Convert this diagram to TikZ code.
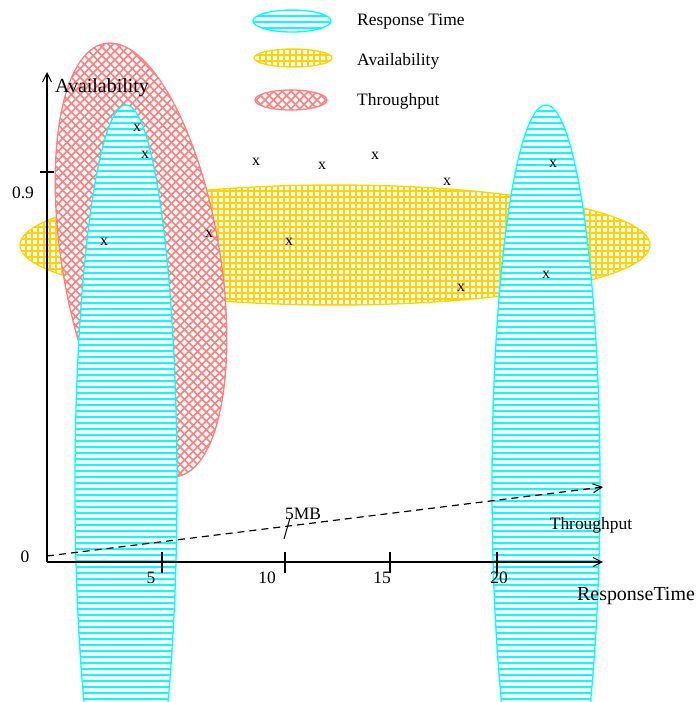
\documentclass[tikz,border=0pt]{standalone}
\usepackage{fontspec}
\setmainfont{Liberation Serif}
\usetikzlibrary{arrows.meta}
\definecolor{cyanc}{HTML}{00FFFF}
\definecolor{goldc}{HTML}{FFD200}
\definecolor{salmonc}{HTML}{FF7F7F}
\tikzset{
  rtline/.style={draw=cyanc,line width=1.8bp},
  avline/.style={draw=goldc,line width=1.8bp},
  tpline/.style={draw=salmonc,line width=1.6bp},
  lbl/.style={inner sep=0pt,font=\fontsize{17.5}{20}\selectfont},
  biglbl/.style={inner sep=0pt,font=\fontsize{20}{23}\selectfont},
  mark x/.style={inner sep=0pt,font=\fontsize{16}{18}\selectfont},
  axis/.style={line width=1.4bp,-{Straight Barb[length=9bp,width=9bp,line width=1bp]}},
  tickline/.style={line width=1.3bp},
}
% cx cy rx ry : horizontal lines (Response Time)
\newcommand\RTell[4]{%
  \begin{scope}
    \clip (#1,#2) ellipse [x radius=#3bp, y radius=#4bp];
    \fill[white] (#1,#2) ellipse [x radius=#3bp, y radius=#4bp];
    \foreach \ii in {0,...,140}{
      \draw[rtline] ({#1-#3-2},{#2-#4+6*\ii}) -- ({#1+#3+2},{#2-#4+6*\ii});
    }
  \end{scope}
  \draw[rtline,line width=1.3bp] (#1,#2) ellipse [x radius=#3bp, y radius=#4bp];
}
% cx cy rx ry : square grid (Availability)
\newcommand\AVell[4]{%
  \begin{scope}
    \clip (#1,#2) ellipse [x radius=#3bp, y radius=#4bp];
    \fill[white] (#1,#2) ellipse [x radius=#3bp, y radius=#4bp];
    \foreach \ii in {0,...,110}{
      \draw[avline] ({#1-#3+6*\ii},{#2-#4-2}) -- ({#1-#3+6*\ii},{#2+#4+2});
    }
    \foreach \ii in {0,...,25}{
      \draw[avline] ({#1-#3-2},{#2-#4+6*\ii}) -- ({#1+#3+2},{#2-#4+6*\ii});
    }
  \end{scope}
  \draw[avline,line width=1.3bp] (#1,#2) ellipse [x radius=#3bp, y radius=#4bp];
}
% cx cy rx ry angle : diagonal cross hatch (Throughput)
\newcommand\TPell[5]{%
  \begin{scope}
    \clip[rotate around={#5:(#1,#2)}] (#1,#2) ellipse [x radius=#3bp, y radius=#4bp];
    \fill[white,rotate around={#5:(#1,#2)}] (#1,#2) ellipse [x radius=#3bp, y radius=#4bp];
    \foreach \ii in {-60,...,60}{
      \draw[tpline] ({#1-260},{#2-260+8.7*\ii}) -- ({#1+260},{#2+260+8.7*\ii});
      \draw[tpline] ({#1-260},{#2+260+8.7*\ii}) -- ({#1+260},{#2-260+8.7*\ii});
    }
  \end{scope}
  \draw[tpline,line width=1.3bp,rotate around={#5:(#1,#2)}] (#1,#2) ellipse [x radius=#3bp, y radius=#4bp];
}
\begin{document}
\begin{tikzpicture}[x=1bp,y=-1bp]
\useasboundingbox (0,0) rectangle (700,702);
\clip (0,0) rectangle (700,702);
% main ellipses
\AVell{335}{245}{315}{60}
\TPell{141}{260}{79}{219.5}{9.4}
\RTell{126}{486}{51}{381}
\RTell{546}{486}{54}{381}
% legend
\RTell{292}{21}{39}{11}
\AVell{293}{58}{39}{9}
\TPell{291}{100}{36}{10}{0}
\node[lbl,anchor=west] (lgrt) at (357,22) {Response Time};
\node[lbl,anchor=west] (lgav) at (357,61) {Availability};
\node[lbl,anchor=west] (lgtp) at (357,101) {Throughput};
% axes
\coordinate (O) at (47,562);
\coordinate (ytop) at (47,72);
\coordinate (xend) at (603,562);
\draw[axis] (O) -- (ytop);
\draw[axis] (O) -- (xend);
\coordinate (yt1) at (40,172);
\coordinate (yt2) at (54,172);
\draw[tickline] (yt1) -- (yt2);
\foreach \xx/\nm in {162/a,285/b,390/c,497/d}{
  \coordinate (t\nm1) at (\xx,552);
  \coordinate (t\nm2) at (\xx,573);
  \draw[tickline] (t\nm1) -- (t\nm2);
}
\node[biglbl,anchor=west] (ylab) at (55,88) {Availability};
\node[biglbl] (xlab) at (636,596) {ResponseTime};
\node[lbl] (l09) at (23,193) {0.9};
\node[lbl] (l0) at (25,557) {0};
\node[lbl] (l5) at (151,578) {5};
\node[lbl] (l10) at (267,578) {10};
\node[lbl] (l15) at (382,578) {15};
\node[lbl] (l20) at (499,578) {20};
% throughput dashed axis
\coordinate (d0) at (47,556);
\coordinate (d1) at (603,487);
\draw[line width=1.2bp,dash pattern=on 7bp off 5bp,-{Straight Barb[length=9bp,width=9bp,line width=1bp]}] (d0) -- (d1);
\coordinate (s1) at (284,539);
\coordinate (s2) at (290,518);
\draw[line width=1bp] (s1) -- (s2);
\node[lbl] (l5mb) at (303,514) {5MB};
\node[lbl] (ltp) at (591,525) {Throughput};
% x marks
\foreach \px/\py/\nm in {137/128/m1,145/155/m2,256/162/m3,322/166/m4,375/156/m5,447/182/m6,104/242/m7,209/234/m8,289/242/m9,461/288/m10,553/164/m11,546/275/m12}{
  \node[mark x] (\nm) at (\px,\py) {x};
}
\end{tikzpicture}
\end{document}
